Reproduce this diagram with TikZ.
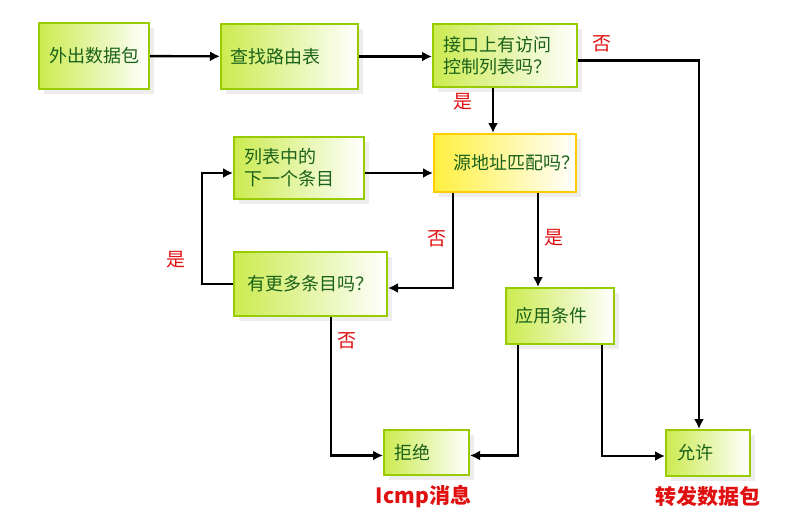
\documentclass[tikz,border=0pt]{standalone}
\usepackage{fontspec}
\usepackage{tikz}
\usetikzlibrary{arrows.meta,positioning,shadows}
\newfontfamily\cjk{Noto Sans CJK SC}
\definecolor{boxline}{HTML}{99CC00}
\definecolor{boxfill}{HTML}{CCEB50}
\definecolor{boxtext}{HTML}{1A621A}
\definecolor{goldline}{HTML}{FFCC00}
\definecolor{goldfill}{HTML}{FFF040}
\definecolor{labelred}{HTML}{E01010}
\tikzset{
  stepbox/.style={draw=boxline, line width=2pt, left color=boxfill, right color=white,
    anchor=north west, align=left, inner xsep=10pt, inner ysep=2pt, text=boxtext,
    font=\cjk\fontsize{18}{22}\selectfont,
    drop shadow={shadow xshift=5pt, shadow yshift=-5pt, fill=black!7, opacity=1}},
  matchbox/.style={stepbox, draw=goldline, left color=goldfill},
  flowarrow/.style={-{Latex[length=10pt,width=10pt]}, line width=2.4pt, draw=black},
  yesno/.style={text=labelred, font=\cjk\fontsize{19}{20}\selectfont, inner sep=1pt},
  outnote/.style={text=labelred, font=\cjk\bfseries\fontsize{21}{22}\selectfont, inner sep=1pt}
}
\begin{document}
\begin{tikzpicture}[x=1pt, y=-1pt]
  \useasboundingbox (0,0) rectangle (796,525);

  \node[stepbox, minimum width=110pt, minimum height=66pt, text width=90pt] (pkt) at (38,22) {外出数据包};
  \node[stepbox, minimum width=137pt, minimum height=65pt, inner xsep=9pt, text width=119pt] (route) at (220,23) {查找路由表};
  \node[stepbox, minimum width=144pt, minimum height=63pt, text width=124pt] (acl) at (432,23) {接口上有访问\\控制列表吗？};
  \node[matchbox, minimum width=142pt, minimum height=58pt, inner xsep=1pt, text width=140pt, align=right] (match) at (433,133) {源地址匹配吗？\hspace*{-4pt}};
  \node[stepbox, minimum width=130pt, minimum height=62pt, text width=110pt] (next) at (233,136) {列表中的\\下一个条目};
  \node[stepbox, minimum width=153pt, minimum height=64pt, inner xsep=12pt, text width=129pt, align=center] (more) at (233,251) {有更多条目吗？};
  \node[stepbox, minimum width=108pt, minimum height=56pt, inner xsep=9pt, text width=90pt] (apply) at (505,287) {应用条件};
  \node[stepbox, minimum width=85pt, minimum height=45pt, text width=65pt] (deny) at (383,429) {拒绝};
  \node[stepbox, minimum width=84pt, minimum height=46pt, inner xsep=11pt, text width=62pt] (permit) at (665,429) {允许};

  \node[outnote, below=8pt of deny.south, xshift=-3pt] (icmp) {Icmp消息};
  \node[outnote, below=8pt of permit.south] (fwd) {转发数据包};

  \draw[flowarrow] (pkt) -- (route);
  \draw[flowarrow] (route.east) -- (route.east -| acl.west);
  \draw[flowarrow] ([yshift=-5pt]acl.east) -| node[yesno, pos=0.1, above=6pt] {否} ([xshift=-9pt]permit.north);
  \draw[flowarrow] ([xshift=-12pt]acl.south) -- node[yesno, pos=0.3, left=18pt] {是} ([xshift=-12pt]acl.south |- match.north);
  \draw[flowarrow] ([yshift=-5pt]next.east) -- ([yshift=-5pt]next.east -| match.west);
  \draw[flowarrow] ([xshift=20pt]match.south west) |- node[yesno, pos=0.24, left=4pt] {否} ([yshift=-4pt]more.east);
  \draw[flowarrow] ([xshift=105pt]match.south west) -- node[yesno, pos=0.48, right=4pt] {是} ([xshift=105pt]match.south west |- apply.north);
  \draw[flowarrow] (more.west) -- ++(-31,0) |- node[yesno, pos=0.11, left=14pt] {是} ([yshift=-5pt]next.west);
  \draw[flowarrow] ([xshift=98pt]more.south west) |- node[yesno, pos=0.085, right=4pt] {否} ([yshift=-3pt]deny.west);
  \draw[flowarrow] ([xshift=13pt]apply.south west) |- ([yshift=-3pt]deny.east);
  \draw[flowarrow] ([xshift=97pt]apply.south west) |- ([yshift=-3pt]permit.west);
\end{tikzpicture}
\end{document}
